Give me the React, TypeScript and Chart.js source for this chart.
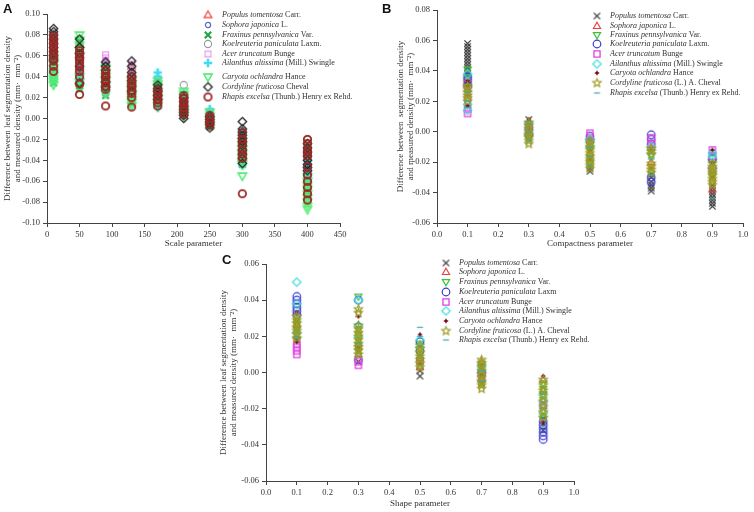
import React, { useEffect, useRef } from 'react';
import { Chart, registerables } from 'chart.js';

Chart.register(...registerables);

// ---------------- shared text ----------------
const SPECIES = [
  'Populus tomentosa',
  'Sophora japonica',
  'Fraxinus pennsylvanica',
  'Koelreuteria paniculata',
  'Acer truncatum',
  'Ailanthus altissima',
  'Caryota ochlandra',
  'Cordyline fruticosa',
  'Rhapis excelsa',
];
const A_AUTHORS = ['Carr.', 'L.', 'Var.', 'Laxm.', 'Bunge', '(Mill.) Swingle', 'Hance', 'Cheval', '(Thunb.) Henry ex Rehd.'];
const B_AUTHORS = ['Carr.', 'L.', 'Var.', 'Laxm.', 'Bunge', '(Mill.) Swingle', 'Hance', '(L.) A. Cheval', '(Thunb.) Henry ex Rehd.'];
const C_AUTHORS = ['Carr.', 'L.', 'Var.', 'Laxm', 'Bunge', '(Mill.) Swingle', 'Hance', '(L.) A. Cheval', '(Thunb.) Henry ex Rehd.'];

const A_Y_TITLE = ['Difference between leaf segmentation density', 'and measured density (mm\u00b7  mm\u207b\u00b2)'];
const B_Y_TITLE = ['Difference between  segmentation density', 'and measured density (mm\u00b7  mm\u207b\u00b2)'];
const C_Y_TITLE = ['Difference between leaf segmentation density', 'and measured density (mm\u00b7  mm\u207b\u00b2)'];
const A_X_TITLE = 'Scale parameter';
const B_X_TITLE = 'Compactness parameter';
const C_X_TITLE = 'Shape parameter';

// ---------------- Panel A: scale parameter ----------------
const A_X = [10, 50, 90, 130, 170, 210, 250, 300, 400];
const A_X_TICKS = [0, 50, 100, 150, 200, 250, 300, 350, 400, 450];
const A_Y_TICKS = [-0.1, -0.08, -0.06, -0.04, -0.02, 0, 0.02, 0.04, 0.06, 0.08, 0.1];

const A_POPULUS = [
  [0.06, 0.066, 0.07, 0.074, 0.078],
  [0.05, 0.058, 0.066, 0.072],
  [0.03, 0.038, 0.046, 0.052],
  [0.036, 0.044, 0.05],
  [0.024, 0.03, 0.036],
  [0.01, 0.016, 0.022],
  [0.0, 0.004],
  [-0.03, -0.038],
  [-0.03, -0.044, -0.06],
];
const A_SOPHORA = [
  [0.044, 0.05, 0.056, 0.062, 0.068],
  [0.04, 0.048, 0.056, 0.062],
  [0.036, 0.044, 0.05, 0.056],
  [0.028, 0.034, 0.042],
  [0.014, 0.02, 0.028],
  [0.008, 0.014, 0.02],
  [-0.002, 0.002],
  [-0.016, -0.024],
  [-0.028, -0.04, -0.052],
];
const A_FRAXINUS = [
  [0.034, 0.037, 0.04, 0.043, 0.046, 0.05, 0.054, 0.058, 0.064],
  [0.028, 0.031, 0.034, 0.038, 0.044, 0.048, 0.054, 0.06, 0.066, 0.07, 0.074],
  [0.022, 0.025, 0.028, 0.032, 0.036, 0.04, 0.044],
  [0.014, 0.017, 0.02, 0.023, 0.026, 0.029, 0.032],
  [0.016, 0.019, 0.022, 0.026, 0.03, 0.033, 0.036],
  [0.004, 0.007, 0.01, 0.013, 0.016, 0.019, 0.022],
  [-0.008, -0.005, -0.002, 0.001, 0.004],
  [-0.02, -0.024, -0.028, -0.032, -0.036, -0.04, -0.044],
  [-0.024, -0.03, -0.036, -0.042, -0.048, -0.053, -0.058, -0.064, -0.07],
];
const A_KOELREUTERIA = [
  [0.048, 0.058, 0.07, 0.08],
  [0.036, 0.05, 0.06],
  [0.026, 0.04, 0.052],
  [0.022, 0.034, 0.046],
  [0.018, 0.028],
  [0.012, 0.032],
  [-0.004, 0.002],
  [-0.012, -0.026],
  [-0.02, -0.034, -0.076],
];
const A_ACER = [
  [0.052, 0.06, 0.066, 0.072],
  [0.042, 0.052, 0.064],
  [0.044, 0.052, 0.058, 0.061],
  [0.038, 0.044, 0.052],
  [0.026, 0.034, 0.038],
  [0.006, 0.014],
  [0.0],
  [-0.02, -0.032],
  [-0.032, -0.05],
];
const A_AILANTHUS = [
  [0.04, 0.044, 0.048, 0.05, 0.054],
  [0.036, 0.04, 0.043, 0.046],
  [0.026, 0.03, 0.034],
  [0.02, 0.023, 0.026],
  [0.01, 0.013, 0.016, 0.04, 0.044],
  [0.004, 0.018, 0.022, 0.025],
  [0.004, 0.007, 0.009],
  [-0.018, -0.03, -0.036, -0.04, -0.045],
  [-0.04, -0.043, -0.046, -0.049, -0.052, -0.055, -0.058],
];
const A_CARYOTA = [
  [0.032, 0.035, 0.038, 0.041, 0.044, 0.048, 0.052, 0.055, 0.058],
  [0.03, 0.035, 0.04, 0.06, 0.065, 0.07, 0.075, 0.08],
  [0.024, 0.028, 0.032, 0.036, 0.04, 0.044, 0.048],
  [0.012, 0.015, 0.018, 0.021, 0.024, 0.027, 0.03, 0.033, 0.036],
  [0.012, 0.016, 0.02, 0.024, 0.03, 0.033, 0.036],
  [0.002, 0.005, 0.008, 0.02, 0.023, 0.026],
  [-0.006, -0.002, 0.002, 0.006],
  [-0.022, -0.026, -0.03, -0.034, -0.038, -0.042, -0.044, -0.055],
  [-0.056, -0.06, -0.064, -0.068, -0.072, -0.076, -0.08, -0.084, -0.087],
];
const A_CORDYLINE = [
  [0.056, 0.06, 0.064, 0.068, 0.072, 0.076, 0.08, 0.083, 0.086],
  [0.034, 0.05, 0.058, 0.062, 0.068, 0.076],
  [0.03, 0.035, 0.04, 0.046, 0.05, 0.054],
  [0.026, 0.031, 0.036, 0.04, 0.044, 0.05, 0.055],
  [0.018, 0.022, 0.026, 0.029, 0.032],
  [0.0, 0.003, 0.006, 0.009, 0.012, 0.016, 0.02],
  [-0.009, -0.006, -0.004, -0.001, 0.002],
  [-0.003, -0.01, -0.013, -0.016, -0.019, -0.022, -0.026, -0.03, -0.034, -0.038, -0.043],
  [-0.024, -0.028, -0.032, -0.036, -0.04, -0.044, -0.047, -0.05],
];
const A_RHAPIS = [
  [0.045, 0.05, 0.055, 0.058, 0.061, 0.064, 0.067, 0.07, 0.073, 0.076, 0.079],
  [0.023, 0.033, 0.04, 0.045, 0.049, 0.053, 0.056, 0.059, 0.062, 0.065],
  [0.012, 0.028, 0.031, 0.034, 0.037, 0.04, 0.043, 0.046],
  [0.011, 0.02, 0.024, 0.027, 0.03, 0.033, 0.036, 0.04],
  [0.012, 0.015, 0.018, 0.021, 0.024, 0.027],
  [0.004, 0.007, 0.01, 0.013, 0.016, 0.019, 0.022],
  [-0.006, -0.003, 0.0, 0.003],
  [-0.014, -0.02, -0.024, -0.03, -0.034, -0.038, -0.072],
  [-0.02, -0.024, -0.03, -0.033, -0.036, -0.046, -0.054, -0.06, -0.066, -0.072, -0.078],
];

// ---------------- Panel B: compactness parameter ----------------
const B_X = [0.1, 0.3, 0.5, 0.7, 0.9];
const B_X_TICKS = [0, 0.1, 0.2, 0.3, 0.4, 0.5, 0.6, 0.7, 0.8, 0.9, 1.0];
const B_Y_TICKS = [-0.06, -0.04, -0.02, 0, 0.02, 0.04, 0.06, 0.08];

const B_POPULUS = [
  [0.017, 0.038, 0.04, 0.042, 0.044, 0.046, 0.048, 0.05, 0.052, 0.054, 0.056, 0.058],
  [0.008, 0.004, -0.002],
  [-0.026, -0.024, -0.022, -0.018],
  [-0.039, -0.037, -0.035, -0.033, -0.03, -0.028],
  [-0.049, -0.047, -0.045, -0.043, -0.041, -0.039, -0.037, -0.035, -0.03],
];
const B_SOPHORA = [[0.028, 0.032, 0.034], [0.006, 0.0], [-0.008, -0.014], [-0.01, -0.02], [-0.038, -0.026]];
const B_FRAXINUS = [[0.03, 0.036, 0.041], [0.004, -0.004], [-0.006, -0.012, -0.02], [-0.012, -0.016], [-0.02, -0.028]];
const B_KOELREUTERIA = [[0.03, 0.034, 0.036], [0.002, -0.002], [-0.003, -0.006], [-0.002, -0.005, -0.008, -0.03, -0.033], [-0.018, -0.024]];
const B_ACER = [[0.012, 0.015, 0.022], [0.003], [-0.001, -0.004], [-0.004, -0.008], [-0.012, -0.016]];
const B_AILANTHUS = [[0.014, 0.018, 0.038], [0.006, -0.001], [-0.005, -0.01], [-0.01, -0.014], [-0.014, -0.016]];
const B_CARYOTA = [[0.017, 0.024, 0.03, 0.033], [0.008, 0.002], [-0.012, -0.018], [-0.012, -0.024], [-0.012, -0.02, -0.03]];
const B_CORDYLINE = [
  [0.02, 0.022, 0.024, 0.026, 0.028, 0.03],
  [-0.008, -0.006, -0.004, -0.002, 0.0, 0.002, 0.004, 0.006],
  [-0.024, -0.022, -0.02, -0.018, -0.016, -0.014, -0.012, -0.01, -0.008, -0.006],
  [-0.011, -0.013, -0.015, -0.021, -0.023, -0.025, -0.027],
  [-0.021, -0.023, -0.025, -0.027, -0.029, -0.031, -0.033, -0.035],
];
const B_RHAPIS = [[0.016, 0.02, 0.026], [-0.006, 0.0, 0.005], [-0.01, -0.016, -0.022], [-0.018, -0.028], [-0.015, -0.044]];

// ---------------- Panel C: shape parameter ----------------
const C_X = [0.1, 0.3, 0.5, 0.7, 0.9];
const C_X_TICKS = [0, 0.1, 0.2, 0.3, 0.4, 0.5, 0.6, 0.7, 0.8, 0.9, 1.0];
const C_Y_TICKS = [-0.06, -0.04, -0.02, 0, 0.02, 0.04, 0.06];

const C_POPULUS = [[0.018, 0.024, 0.028], [0.006, 0.012], [-0.002, 0.001], [-0.002, -0.006], [-0.026, -0.032]];
const C_SOPHORA = [[0.02, 0.026], [0.01, 0.016], [0.003, 0.008], [0.006, -0.004], [-0.004, -0.01]];
const C_FRAXINUS = [
  [0.018, 0.021, 0.024, 0.027, 0.03],
  [0.042, 0.012, 0.015, 0.018, 0.021, 0.024],
  [0.004, 0.007, 0.01, 0.013, 0.016],
  [-0.006, -0.003, 0.0, 0.003, 0.005],
  [-0.006, -0.009, -0.012, -0.015, -0.018, -0.021, -0.024, -0.026],
];
const C_KOELREUTERIA = [[0.032, 0.034, 0.036, 0.038, 0.04, 0.042], [0.007, 0.04], [0.012, 0.017], [0.0], [-0.037, -0.035, -0.033, -0.031, -0.029, -0.027]];
const C_ACER = [[0.01, 0.012, 0.014, 0.016], [0.004, 0.006], [0.006], [-0.003], [-0.018]];
const C_AILANTHUS = [[0.05, 0.038, 0.022], [0.04, 0.026, 0.02], [0.014, 0.018], [0.003], [-0.022, -0.016]];
const C_CARYOTA = [[0.017, 0.033], [0.031, 0.014], [0.021, 0.005], [-0.001, 0.004], [-0.002, -0.028]];
const C_CORDYLINE = [
  [0.019, 0.021, 0.023, 0.025, 0.027, 0.029, 0.031],
  [0.033, 0.035, 0.01, 0.012, 0.014, 0.016, 0.018, 0.02, 0.022, 0.024, 0.026],
  [0.003, 0.005, 0.007, 0.009, 0.011, 0.013, 0.015],
  [-0.009, -0.007, -0.005, -0.003, -0.001, 0.001, 0.003, 0.005, 0.007],
  [-0.004, -0.007, -0.01, -0.013, -0.016, -0.019, -0.022, -0.025],
];
const C_RHAPIS = [[0.02, 0.036], [0.027, 0.016], [0.025, 0.02], [-0.005, 0.001], [-0.012, -0.03]];

// ---------------- styling ----------------
const SERIF = '"Liberation Serif", "Times New Roman", serif';
const TEXT = '#333333';
const AXIS = '#444444';

type Marker = { kind: string; color: string; r: number; lw: number };

const A_MARKERS: Marker[] = [
  { kind: 'tri', color: '#e8413c', r: 4, lw: 1.2 },
  { kind: 'circle', color: '#5a6bc0', r: 2.6, lw: 1.2 },
  { kind: 'xbold', color: '#25a548', r: 3.2, lw: 2.2 },
  { kind: 'circle', color: '#9a9a9a', r: 3.6, lw: 1.1 },
  { kind: 'square', color: '#f08ef0', r: 3.4, lw: 1.1 },
  { kind: 'plus', color: '#3fdcf2', r: 4.2, lw: 2.6 },
  { kind: 'itri', color: '#55ee77', r: 4.4, lw: 1.6 },
  { kind: 'diamond', color: '#222222', r: 4.2, lw: 1.3 },
  { kind: 'circle', color: '#9a2a26', r: 3.7, lw: 1.8 },
];
const BC_MARKERS: Marker[] = [
  { kind: 'x', color: '#333333', r: 3.2, lw: 1.2 },
  { kind: 'tri', color: '#e83c3c', r: 3.8, lw: 1.1 },
  { kind: 'itri', color: '#3cc03c', r: 3.8, lw: 1.2 },
  { kind: 'circle', color: '#3a3ad0', r: 3.8, lw: 1.2 },
  { kind: 'square', color: '#e040e0', r: 3.6, lw: 1.3 },
  { kind: 'diamond', color: '#40dcdc', r: 4.2, lw: 1.2 },
  { kind: 'dot', color: '#7a0a1e', r: 2.8, lw: 1 },
  { kind: 'star', color: '#9c9c24', r: 4.3, lw: 1.2 },
  { kind: 'dash', color: '#3aa8a8', r: 3, lw: 1.2 },
];

function drawMarker(ctx: CanvasRenderingContext2D, m: Marker, x: number, y: number) {
  const { kind, color, r, lw } = m;
  ctx.save();
  ctx.strokeStyle = color;
  ctx.fillStyle = color;
  ctx.lineWidth = lw;
  ctx.lineJoin = 'miter';
  ctx.beginPath();
  switch (kind) {
    case 'tri':
      ctx.moveTo(x, y - r);
      ctx.lineTo(x + r * 0.95, y + r * 0.65);
      ctx.lineTo(x - r * 0.95, y + r * 0.65);
      ctx.closePath();
      ctx.stroke();
      break;
    case 'itri':
      ctx.moveTo(x, y + r);
      ctx.lineTo(x + r * 0.95, y - r * 0.65);
      ctx.lineTo(x - r * 0.95, y - r * 0.65);
      ctx.closePath();
      ctx.stroke();
      break;
    case 'circle':
      ctx.arc(x, y, r, 0, Math.PI * 2);
      ctx.stroke();
      break;
    case 'x':
    case 'xbold':
      ctx.moveTo(x - r, y - r);
      ctx.lineTo(x + r, y + r);
      ctx.moveTo(x + r, y - r);
      ctx.lineTo(x - r, y + r);
      ctx.stroke();
      break;
    case 'square':
      ctx.rect(x - r * 0.85, y - r * 0.85, r * 1.7, r * 1.7);
      ctx.stroke();
      break;
    case 'plus':
      ctx.moveTo(x - r, y);
      ctx.lineTo(x + r, y);
      ctx.moveTo(x, y - r);
      ctx.lineTo(x, y + r);
      ctx.stroke();
      break;
    case 'diamond':
      ctx.moveTo(x, y - r);
      ctx.lineTo(x + r, y);
      ctx.lineTo(x, y + r);
      ctx.lineTo(x - r, y);
      ctx.closePath();
      ctx.stroke();
      break;
    case 'dot': {
      for (let i = 0; i < 8; i++) {
        const a = (Math.PI / 4) * i - Math.PI / 2;
        const rr = i % 2 === 0 ? r : r * 0.5;
        const px = x + Math.cos(a) * rr;
        const py = y + Math.sin(a) * rr;
        if (i === 0) ctx.moveTo(px, py);
        else ctx.lineTo(px, py);
      }
      ctx.closePath();
      ctx.fill();
      break;
    }
    case 'star': {
      for (let i = 0; i < 10; i++) {
        const a = (Math.PI / 5) * i - Math.PI / 2;
        const rr = i % 2 === 0 ? r : r * 0.45;
        const px = x + Math.cos(a) * rr;
        const py = y + Math.sin(a) * rr;
        if (i === 0) ctx.moveTo(px, py);
        else ctx.lineTo(px, py);
      }
      ctx.closePath();
      ctx.stroke();
      break;
    }
    case 'dash':
      ctx.moveTo(x - r, y);
      ctx.lineTo(x + r, y);
      ctx.stroke();
      break;
  }
  ctx.restore();
}

function makeMarker(m: Marker): HTMLCanvasElement {
  const s = Math.ceil(2 * m.r + m.lw + 3);
  const c = document.createElement('canvas');
  c.width = s;
  c.height = s;
  const ctx = c.getContext('2d')!;
  drawMarker(ctx, m, s / 2, s / 2);
  return c;
}

function fmt(v: number, dec: number) {
  const n = Math.abs(v) < 1e-9 ? 0 : v;
  return n.toFixed(dec);
}

type PanelDef = {
  xs: number[];
  series: number[][][];
  markers: Marker[];
  authors: string[];
  xTicks: number[];
  yTicks: number[];
  xDec: number;
  yDec: number;
  xTitle: string;
  yTitle: string[];
  padL: number;
  padT: number;
  padR: number;
  yW: number;
  xH: number;
  legMarkerX: number;
  legTextX: number;
  legYs: number[];
};

const PANEL_A: PanelDef = {
  xs: A_X,
  series: [A_POPULUS, A_SOPHORA, A_FRAXINUS, A_KOELREUTERIA, A_ACER, A_AILANTHUS, A_CARYOTA, A_CORDYLINE, A_RHAPIS],
  markers: A_MARKERS,
  authors: A_AUTHORS,
  xTicks: A_X_TICKS,
  yTicks: A_Y_TICKS,
  xDec: 0,
  yDec: 2,
  xTitle: A_X_TITLE,
  yTitle: A_Y_TITLE,
  padL: 2,
  padT: 14,
  padR: 40,
  yW: 45,
  xH: 29,
  legMarkerX: 208,
  legTextX: 222,
  legYs: [15, 25, 35, 44, 54, 63, 77, 87, 97],
};
const PANEL_B: PanelDef = {
  xs: B_X,
  series: [B_POPULUS, B_SOPHORA, B_FRAXINUS, B_KOELREUTERIA, B_ACER, B_AILANTHUS, B_CARYOTA, B_CORDYLINE, B_RHAPIS],
  markers: BC_MARKERS,
  authors: B_AUTHORS,
  xTicks: B_X_TICKS,
  yTicks: B_Y_TICKS,
  xDec: 1,
  yDec: 2,
  xTitle: B_X_TITLE,
  yTitle: B_Y_TITLE,
  padL: 15.6,
  padT: 10,
  padR: 11,
  yW: 41.4,
  xH: 29,
  legMarkerX: 217,
  legTextX: 230,
  legYs: [16, 26, 35, 44, 54, 64, 73, 83, 93],
};
const PANEL_C: PanelDef = {
  xs: C_X,
  series: [C_POPULUS, C_SOPHORA, C_FRAXINUS, C_KOELREUTERIA, C_ACER, C_AILANTHUS, C_CARYOTA, C_CORDYLINE, C_RHAPIS],
  markers: BC_MARKERS,
  authors: C_AUTHORS,
  xTicks: C_X_TICKS,
  yTicks: C_Y_TICKS,
  xDec: 1,
  yDec: 2,
  xTitle: C_X_TITLE,
  yTitle: C_Y_TITLE,
  padL: 18.6,
  padT: 12,
  padR: 16,
  yW: 47.4,
  xH: 31,
  legMarkerX: 246,
  legTextX: 259,
  legYs: [11, 20, 30, 40, 50, 59, 69, 79, 88],
};

function buildChart(canvas: HTMLCanvasElement, def: PanelDef) {
  const imgs = def.markers.map(makeMarker);
  const datasets = def.series.map((vals, i) => ({
    label: SPECIES[i],
    data: def.xs.flatMap((x, j) => vals[j].map((y) => ({ x, y }))),
    pointStyle: imgs[i] as any,
    pointRadius: def.markers[i].r,
    pointHoverRadius: def.markers[i].r,
    order: def.series.length - i,
  }));

  const tickFont = { family: SERIF, size: 8.5 };
  const titleFont = { family: SERIF, size: 9, lineHeight: 1.15 };

  const legendPlugin = {
    id: 'speciesLegend',
    afterDraw(chart: Chart) {
      const ctx = chart.ctx;
      ctx.save();
      ctx.textBaseline = 'middle';
      ctx.textAlign = 'left';
      ctx.fillStyle = TEXT;
      def.legYs.forEach((y, i) => {
        const img = imgs[i];
        ctx.drawImage(img, def.legMarkerX - img.width / 2, y - img.height / 2);
        ctx.font = `italic 8px ${SERIF}`;
        ctx.fillText(SPECIES[i], def.legTextX, y);
        const w = ctx.measureText(SPECIES[i] + ' ').width;
        ctx.font = `8px ${SERIF}`;
        ctx.fillText(def.authors[i], def.legTextX + w, y);
      });
      ctx.restore();
    },
  };

  return new Chart(canvas, {
    type: 'scatter',
    data: { datasets },
    options: {
      responsive: false,
      animation: false,
      events: [],
      layout: { padding: { left: def.padL, top: def.padT, right: def.padR, bottom: 0 } },
      plugins: { legend: { display: false }, tooltip: { enabled: false } },
      scales: {
        x: {
          type: 'linear',
          min: def.xTicks[0],
          max: def.xTicks[def.xTicks.length - 1],
          afterBuildTicks: (s: any) => {
            s.ticks = def.xTicks.map((v) => ({ value: v }));
          },
          afterFit: (s: any) => {
            s.height = def.xH;
          },
          ticks: {
            callback: (v: any) => fmt(Number(v), def.xDec),
            font: tickFont,
            color: TEXT,
            padding: 3,
            maxRotation: 0,
            autoSkip: false,
          },
          grid: { display: true, drawOnChartArea: false, drawTicks: true, tickLength: 4, color: AXIS },
          border: { display: true, color: AXIS, width: 1 },
          title: { display: true, text: def.xTitle, font: titleFont, color: TEXT, padding: { top: 2, bottom: 3 } },
        },
        y: {
          type: 'linear',
          min: def.yTicks[0],
          max: def.yTicks[def.yTicks.length - 1],
          afterBuildTicks: (s: any) => {
            s.ticks = def.yTicks.map((v) => ({ value: v }));
          },
          afterFit: (s: any) => {
            s.width = def.yW;
          },
          ticks: {
            callback: (v: any) => fmt(Number(v), def.yDec),
            font: tickFont,
            color: TEXT,
            padding: 3,
            autoSkip: false,
          },
          grid: { display: true, drawOnChartArea: false, drawTicks: true, tickLength: 4, color: AXIS },
          border: { display: true, color: AXIS, width: 1 },
          title: { display: true, text: def.yTitle, font: titleFont, color: TEXT, padding: { top: 0, bottom: 0 } },
        },
      },
    } as any,
    plugins: [legendPlugin as any],
  });
}

const letterStyle: React.CSSProperties = {
  position: 'absolute',
  font: 'bold 13px "Liberation Sans", Arial, sans-serif',
  color: '#111',
  lineHeight: '13px',
};

export default function App() {
  const refA = useRef<HTMLCanvasElement>(null);
  const refB = useRef<HTMLCanvasElement>(null);
  const refC = useRef<HTMLCanvasElement>(null);

  useEffect(() => {
    const charts = [
      buildChart(refA.current!, PANEL_A),
      buildChart(refB.current!, PANEL_B),
      buildChart(refC.current!, PANEL_C),
    ];
    return () => charts.forEach((c) => c.destroy());
  }, []);

  return (
    <div style={{ position: 'fixed', left: 0, top: 0, width: 754, height: 512, background: '#ffffff', overflow: 'hidden' }}>
      <canvas ref={refA} width={380} height={252} style={{ position: 'absolute', left: 0, top: 0 }} />
      <canvas ref={refB} width={374} height={252} style={{ position: 'absolute', left: 380, top: 0 }} />
      <canvas ref={refC} width={390} height={260} style={{ position: 'absolute', left: 200, top: 252 }} />
      <div style={{ ...letterStyle, left: 3, top: 2 }}>A</div>
      <div style={{ ...letterStyle, left: 382, top: 2 }}>B</div>
      <div style={{ ...letterStyle, left: 222, top: 253 }}>C</div>
    </div>
  );
}
